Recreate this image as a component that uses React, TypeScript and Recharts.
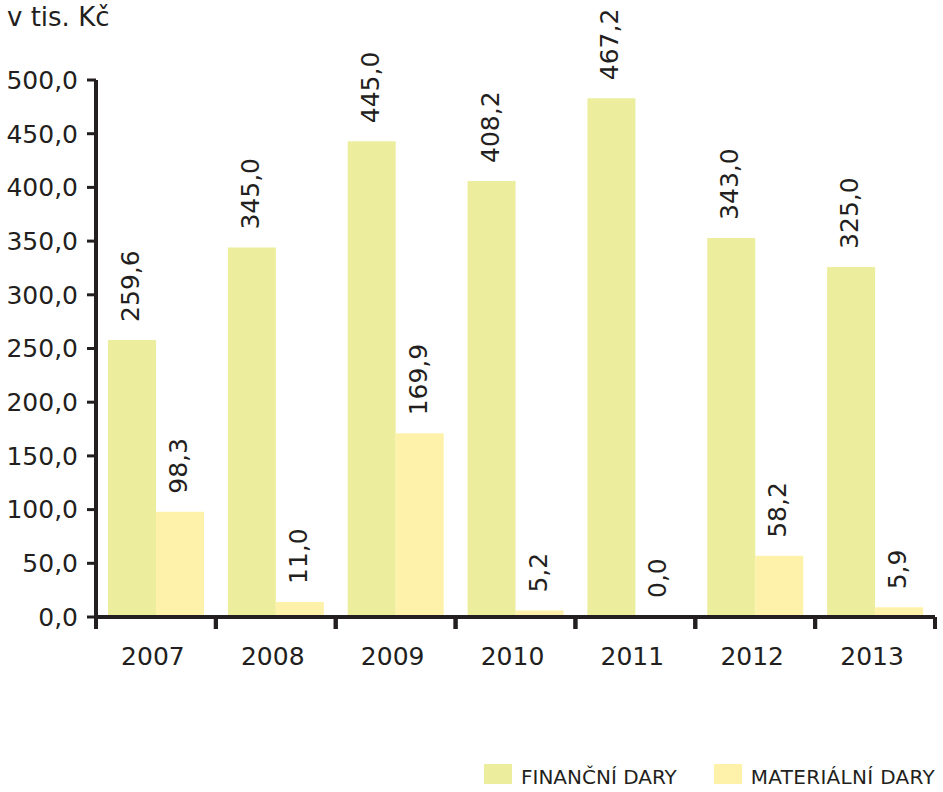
import React from "react";
import { BarChart, Bar, XAxis, YAxis, LabelList } from "recharts";

const years = ["2007", "2008", "2009", "2010", "2011", "2012", "2013"];
// bar heights
const finValues = [258, 344, 443, 406, 483, 353, 326];
const matValues = [98, 14, 171, 6, 0, 57, 9];
// labels as printed above the bars
const finLabels = ["259,6", "345,0", "445,0", "408,2", "467,2", "343,0", "325,0"];
const matLabels = ["98,3", "11,0", "169,9", "5,2", "0,0", "58,2", "5,9"];
const yTicks = [0, 50, 100, 150, 200, 250, 300, 350, 400, 450, 500];
const seriesNames = ["FINANČNÍ DARY", "MATERIÁLNÍ DARY"];

const FIN_COLOR = "#ECEE9E";
const MAT_COLOR = "#FEF2AA";
const INK = "#231F20";
const FONT = "'DejaVu Sans', Verdana, sans-serif";

const W = 943;
const H = 792;
const PLOT_LEFT = 96;
const PLOT_RIGHT = 935;
const BAND = (PLOT_RIGHT - PLOT_LEFT) / years.length;

const data = years.map((year, i) => ({
  year,
  fin: finValues[i],
  mat: matValues[i],
  finLabel: finLabels[i],
  matLabel: matLabels[i],
}));

const fmt = (v: number) => v.toFixed(1).replace(".", ",");

const YearTick = (props: any) => {
  const { x, y, payload } = props;
  return (
    <g>
      <line x1={x - BAND / 2} x2={x - BAND / 2} y1={y} y2={y + 12} stroke={INK} strokeWidth={4} />
      <line x1={x + BAND / 2} x2={x + BAND / 2} y1={y} y2={y + 12} stroke={INK} strokeWidth={4} />
      <text x={x - 3} y={y + 48} textAnchor="middle" fill={INK} fontSize={25} fontFamily={FONT}>
        {payload.value}
      </text>
    </g>
  );
};

const ValueLabel = (props: any) => {
  const { x, y, width, value } = props;
  const cx = x + width / 2 + 7;
  const cy = y - 18;
  return (
    <text
      x={cx}
      y={cy}
      transform={`rotate(-90 ${cx} ${cy})`}
      textAnchor="start"
      fill={INK}
      fontSize={25}
      fontFamily={FONT}
    >
      {value}
    </text>
  );
};

export default function App() {
  return (
    <div style={{ position: "absolute", left: 0, top: 0, width: W, height: H, background: "#fff" }}>
      <div
        style={{
          position: "absolute",
          left: 7,
          top: 4,
          fontFamily: FONT,
          fontSize: 26,
          lineHeight: "26px",
          color: INK,
        }}
      >
        v tis. Kč
      </div>
      <BarChart
        width={W}
        height={H}
        data={data}
        margin={{ top: 80, right: W - PLOT_RIGHT, bottom: 115, left: 0 }}
        barGap={0}
        barCategoryGap="10%"
      >
        <XAxis
          dataKey="year"
          axisLine={{ stroke: INK, strokeWidth: 4 }}
          tickLine={false}
          tickSize={0}
          tickMargin={0}
          height={60}
          tick={<YearTick />}
          interval={0}
        />
        <YAxis
          width={PLOT_LEFT}
          domain={[0, 500]}
          ticks={yTicks}
          tickFormatter={fmt}
          axisLine={{ stroke: INK, strokeWidth: 4 }}
          tickLine={{ stroke: INK, strokeWidth: 3 }}
          tickSize={9}
          tickMargin={9}
          tick={{ fill: INK, fontSize: 25, fontFamily: FONT }}
          interval={0}
        />
        <Bar dataKey="fin" name={seriesNames[0]} fill={FIN_COLOR} isAnimationActive={false}>
          <LabelList dataKey="finLabel" content={<ValueLabel />} />
        </Bar>
        <Bar dataKey="mat" name={seriesNames[1]} fill={MAT_COLOR} minPointSize={1} isAnimationActive={false}>
          <LabelList dataKey="matLabel" content={<ValueLabel />} />
        </Bar>
      </BarChart>
      <div
        style={{
          position: "absolute",
          left: 484,
          top: 764,
          display: "flex",
          alignItems: "center",
          fontFamily: FONT,
          fontSize: 20,
          lineHeight: "20px",
          color: INK,
        }}
      >
        {seriesNames.map((name, i) => (
          <div key={name} style={{ display: "flex", alignItems: "center", marginRight: i === 0 ? 37 : 0 }}>
            <span
              style={{
                width: 28,
                height: 20,
                background: i === 0 ? FIN_COLOR : MAT_COLOR,
                display: "inline-block",
                marginRight: 9,
              }}
            />
            <span style={{ position: "relative", top: 3, letterSpacing: i === 1 ? 0.3 : 0 }}>{name}</span>
          </div>
        ))}
      </div>
    </div>
  );
}
